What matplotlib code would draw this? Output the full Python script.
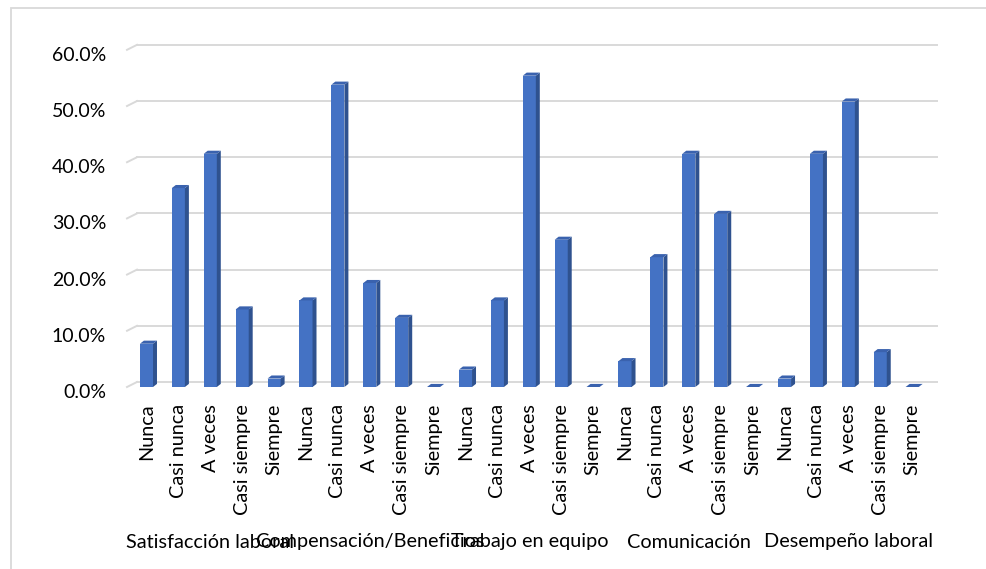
import matplotlib.pyplot as plt
from matplotlib.patches import Polygon, Rectangle
from matplotlib.ticker import FuncFormatter
import matplotlib.transforms as mtransforms

plt.rcParams['font.family'] = ['Lato', 'DejaVu Sans']

# Porcentaje de respuestas por dimensión
grupos = ['Satisfacción laboral', 'Compensación/Beneficios', 'Trabajo en equipo',
          'Comunicación', 'Desempeño laboral']
respuestas = ['Nunca', 'Casi nunca', 'A veces', 'Casi siempre', 'Siempre']

satisfaccion = [7.7, 35.4, 41.5, 13.8, 1.5]
compensacion = [15.4, 53.8, 18.5, 12.3, 0.0]
trabajo_equipo = [3.1, 15.4, 55.4, 26.2, 0.0]
comunicacion = [4.6, 23.1, 41.5, 30.8, 0.0]
desempeno = [1.5, 41.5, 50.8, 6.2, 0.0]

valores = satisfaccion + compensacion + trabajo_equipo + comunicacion + desempeno
etiquetas = respuestas * len(grupos)
x = list(range(len(valores)))

frente = '#4472C4'
lateral = '#2F528F'
tapa = '#3A62AE'
gris = '#D9D9D9'

fig = plt.figure(figsize=(9.86, 5.69), dpi=100)
fig.patches.append(Rectangle((11 / 986, -0.02), 1.0, 1 - 8 / 569 + 0.02,
                             transform=fig.transFigure, fill=False,
                             edgecolor=gris, linewidth=1.3))

ax = fig.add_axes([127 / 986, (569 - 387) / 569, 810 / 986, 348.4 / 569])
ax.set_xlim(-0.61, 24.78)
ax.set_ylim(0, 62)

# pared del fondo: desplazada hacia arriba y a la derecha
dx_pared, dy_pared = 0.313, 0.89
for v in range(0, 70, 10):
    ax.plot([-0.61, -0.61 + dx_pared], [v, v + dy_pared], color=gris, lw=1.4,
            zorder=1, clip_on=False)
    ax.plot([-0.61 + dx_pared, 24.78], [v + dy_pared, v + dy_pared], color=gris,
            lw=1.4, zorder=1, clip_on=False)

# columnas con cara lateral y tapa
ancho = 0.41
dx, dy = 0.125, 0.55
ax.bar(x, valores, width=ancho, color=frente, zorder=3)
for xi, v in zip(x, valores):
    x0, x1 = xi - ancho / 2, xi + ancho / 2
    ax.add_patch(Polygon([(x1, 0), (x1 + dx, dy), (x1 + dx, v + dy), (x1, v)],
                         closed=True, facecolor=lateral, edgecolor='none', zorder=3))
    ax.add_patch(Polygon([(x0, v), (x1, v), (x1 + dx, v + dy), (x0 + dx, v + dy)],
                         closed=True, facecolor=tapa, edgecolor='none', zorder=4))

for s in ax.spines.values():
    s.set_visible(False)

ax.set_yticks(range(0, 70, 10))
ax.yaxis.set_major_formatter(FuncFormatter(lambda v, p: f'{v:.1f}%'))
ax.tick_params(axis='y', length=0, pad=15, labelsize=14, labelcolor='#000000')
bajar = mtransforms.ScaledTranslation(0, -4 / 100, fig.dpi_scale_trans)
for lbl in ax.get_yticklabels():
    lbl.set_transform(lbl.get_transform() + bajar)

ax.set_xticks(x)
ax.set_xticklabels(etiquetas, rotation=90, fontsize=14.3)
ax.tick_params(axis='x', length=0, pad=12)

trans = mtransforms.blended_transform_factory(ax.transData, fig.transFigure)
for i, g in enumerate(grupos):
    ax.text(i * 5 + 2, (569 - 542) / 569, g, transform=trans, ha='center',
            va='center', fontsize=14.3)

fig.savefig('out.png', dpi=100)
